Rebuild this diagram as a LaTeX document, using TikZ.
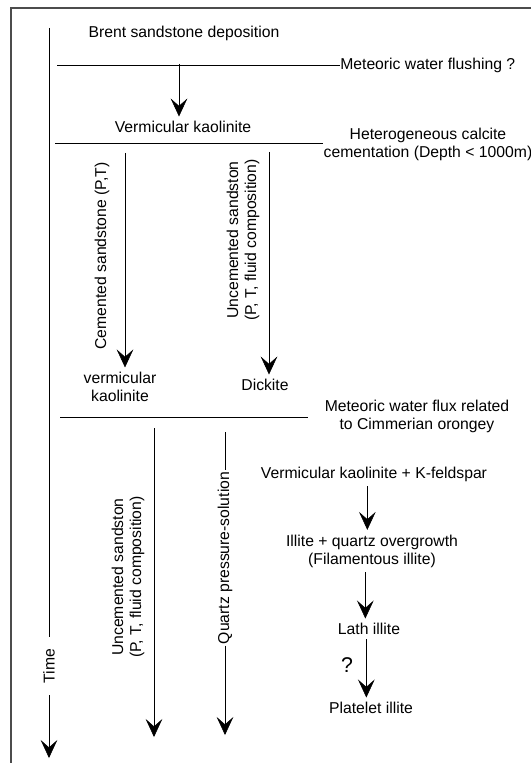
\documentclass[tikz,border=0pt]{standalone}
\usepackage{fontspec}
\setmainfont{Liberation Sans}
\usetikzlibrary{arrows.meta}

\begin{document}
\begin{tikzpicture}[x=0.75pt,y=0.75pt,yscale=-1,xscale=1,
  every node/.style={font=\fontsize{11.8pt}{13.6pt}\selectfont},
  arr/.style={-{Stealth[length=13.5pt,width=12.5pt,inset=5.5pt]}},
  rot/.style={rotate=90,align=center}]
\useasboundingbox (0,0) rectangle (531,763);

%Frame
\draw [black!70,line width=1pt] (11,763) -- (11,8) -- (531,8) ;

%Time axis
\coordinate (t0) at (49,28);
\coordinate (t1) at (49,758);
\node [rotate=90,inner xsep=9pt] (time) at (49,666) {Time};
\draw (t0) -- (time) ;
\draw [arr] (time) -- (t1) ;

% Text Node
\node (brent) at (184,33) {Brent sandstone deposition};
% Text Node
\node [anchor=west,inner sep=0pt] (flush) at (340,65) {Meteoric water flushing ?};
%Straight Lines
\coordinate (l1) at (57,65);
\draw (l1) -- (flush) ;
%Straight Lines
\coordinate (a1) at (179,64);
\node (verm) at (183,127) {Vermicular kaolinite};
\draw [arr] (a1) -- (a1 |- verm.north) ;

%Straight Lines
\coordinate (l2a) at (55,143);
\coordinate (l2b) at (323,143);
\draw (l2a) -- (l2b) ;
% Text Node
\node [align=center] (calc) at (428,144) {Heterogeneous calcite\\cementation (Depth < 1000m)};

%Cemented sandstone
\coordinate (c1) at (125,153);
\node [align=center] (vk) at (120,387) {vermicular\\kaolinite};
\draw [arr] (c1) -- (c1 |- vk.north) ;
\node [rot] (cem) at (102,256) {Cemented sandstone (P,T)};

%Uncemented sandstone
\coordinate (c2) at (269,152);
\node (dick) at (265,385) {Dickite};
\draw [arr] (c2) -- (c2 |- dick.north) ;
\node [rot] (unc) at (243,240) {Uncemented sandston\\(P, T, fluid composition)};

%Straight Lines
\coordinate (l3a) at (60,417);
\coordinate (l3b) at (308,417);
\draw (l3a) -- (l3b) ;
% Text Node
\node [align=center] (cimm) at (417,416) {Meteoric water flux related\\to Cimmerian orongey};

%Uncemented sandstone, late
\coordinate (u1) at (154,428);
\coordinate (u2) at (154,737);
\draw [arr] (u1) -- (u2) ;
\node [rot] (unc2) at (128,577) {Uncemented sandston\\(P, T, fluid composition)};

%Quartz pressure-solution
\coordinate (q1) at (225,432);
\coordinate (q2) at (225,735);
\node [rotate=90,inner sep=1pt] (quartz) at (225,558) {Quartz pressure-solution};
\draw (q1) -- (quartz) ;
\draw [arr] (quartz) -- (q2) ;

%Illite sequence
\node (kf) at (374,474) {Vermicular kaolinite + K-feldspar};
\node [align=center] (ill) at (372,551) {Illite + quartz overgrowth\\(Filamentous illite)};
\node (lath) at (369,629) {Lath illite};
\node (plat) at (371,708) {Platelet illite};
\node [font=\fontsize{16pt}{18pt}\selectfont] (qm) at (347,665) {?};
\draw [arr] ([xshift=-5pt]kf.south) -- ([xshift=-5pt]kf.south |- ill.north) ;
\draw [arr] ([xshift=-5pt]ill.south) -- ([xshift=-5pt]ill.south |- lath.north) ;
\draw [arr] ([xshift=-2pt]lath.south) -- ([xshift=-2pt]lath.south |- plat.north) ;

\end{tikzpicture}
\end{document}
